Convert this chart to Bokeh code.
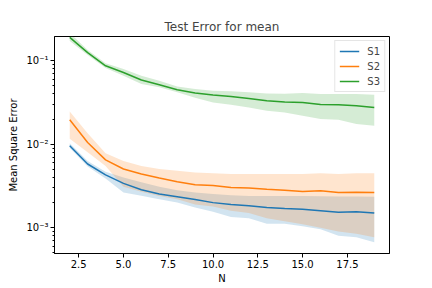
from bokeh.plotting import figure
from bokeh.models import (Range1d, FixedTicker, CustomJSTickFormatter, Legend,
                          LegendItem, ColumnDataSource)
from bokeh.embed import file_html
from bokeh.resources import INLINE

# ---------------- data ----------------
N = [2, 3, 4, 5, 6, 7, 8, 9, 10, 11, 12, 13, 14, 15, 16, 17, 18, 19]

s1_mean = [0.0096, 0.0058, 0.0043, 0.0034, 0.00285, 0.00253, 0.00235, 0.00218, 0.0020,
           0.0019, 0.00183, 0.00175, 0.0017, 0.00167, 0.0016, 0.00153, 0.00156, 0.0015]
s1_lo = [0.0090, 0.0054, 0.0039, 0.00265, 0.00242, 0.0022, 0.00201, 0.00175, 0.00155,
         0.00135, 0.0013, 0.00112, 0.00112, 0.00104, 0.00096, 0.0008, 0.00077, 0.00067]
s1_hi = [0.0103, 0.0063, 0.0047, 0.0040, 0.0035, 0.0031, 0.00282, 0.00265, 0.00253,
         0.00245, 0.0024, 0.0024, 0.0024, 0.0024, 0.00238, 0.00236, 0.00236, 0.00235]

s2_mean = [0.0196, 0.0105, 0.0065, 0.00505, 0.0044, 0.00394, 0.00356, 0.00327, 0.00321,
           0.00304, 0.00299, 0.0029, 0.00282, 0.00272, 0.00277, 0.00265, 0.00267, 0.00265]
s2_lo = [0.0116, 0.0080, 0.0055, 0.0031, 0.0027, 0.0024, 0.0022, 0.0019, 0.0018,
         0.0016, 0.0015, 0.0013, 0.0012, 0.0011, 0.0010, 0.0009, 0.00085, 0.00077]
s2_hi = [0.0247, 0.0135, 0.0078, 0.0063, 0.0055, 0.00505, 0.0048, 0.0046, 0.00448,
         0.0044, 0.0044, 0.0044, 0.0044, 0.0044, 0.0045, 0.0044, 0.0045, 0.0045]

s3_mean = [0.19, 0.125, 0.087, 0.0724, 0.0588, 0.0516, 0.045, 0.041, 0.0388,
           0.0374, 0.0354, 0.0332, 0.032, 0.0317, 0.030, 0.0297, 0.0289, 0.0276]
s3_lo = [0.172, 0.117, 0.082, 0.066, 0.0526, 0.048, 0.042, 0.036, 0.0317,
         0.0297, 0.0276, 0.0252, 0.024, 0.0219, 0.020, 0.0196, 0.0175, 0.0167]
s3_hi = [0.215, 0.134, 0.093, 0.0795, 0.0662, 0.0576, 0.0493, 0.0458, 0.0437,
         0.043, 0.0418, 0.0405, 0.0402, 0.041, 0.040, 0.040, 0.040, 0.0392]

series_names = ["S1", "S2", "S3"]
series_colors = ["#1f77b4", "#ff7f0e", "#2ca02c"]

x_tick_vals = [2.5, 5.0, 7.5, 10.0, 12.5, 15.0, 17.5]
x_tick_labels = ["2.5", "5.0", "7.5", "10.0", "12.5", "15.0", "17.5"]
y_tick_vals = [0.001, 0.01, 0.1]
y_tick_labels = ["10\u207b\u00b3", "10\u207b\u00b2", "10\u207b\u00b9"]

FONT = "DejaVu Sans"

# ---------------- figure ----------------
p = figure(width=432, height=288, x_range=Range1d(1.15, 19.85),
           y_range=Range1d(4.92e-4, 0.195), y_axis_type="log",
           output_backend="svg", toolbar_location=None,
           min_border_left=54, min_border_right=43, min_border_top=36,
           min_border_bottom=35, title="Test Error for mean")

p.title.align = "center"
p.title.text_font = FONT
p.title.text_font_size = "12px"
p.title.text_font_style = "normal"
p.title.standoff = 5
p.title.offset = 0

p.background_fill_color = "white"
p.border_fill_color = "white"
p.outline_line_color = "black"
p.outline_line_width = 1
p.outline_line_alpha = 1
p.xgrid.visible = False
p.ygrid.visible = False

data = [(s1_mean, s1_lo, s1_hi), (s2_mean, s2_lo, s2_hi), (s3_mean, s3_lo, s3_hi)]
renderers = []
for (m, lo, hi), col in zip(data, series_colors):
    src = ColumnDataSource(dict(x=N, m=m, lo=lo, hi=hi))
    p.varea(x="x", y1="lo", y2="hi", source=src, fill_color=col, fill_alpha=0.2)
for (m, lo, hi), col in zip(data, series_colors):
    src = ColumnDataSource(dict(x=N, m=m))
    r = p.line(x="x", y="m", source=src, line_color=col, line_width=1.5)
    renderers.append(r)

legend = Legend(items=[LegendItem(label=n, renderers=[r]) for n, r in zip(series_names, renderers)],
                location="top_right")
legend.margin = 4
legend.padding = 4
legend.spacing = 3
legend.label_height = 12
legend.label_width = 12
legend.glyph_height = 12
legend.glyph_width = 20
legend.label_standoff = 8
legend.label_text_font = FONT
legend.label_text_font_size = "10px"
legend.border_line_color = "#cccccc"
legend.border_line_width = 1
legend.background_fill_alpha = 0.8
p.add_layout(legend)

# ---------------- axes ----------------
p.xaxis.ticker = FixedTicker(ticks=x_tick_vals, minor_ticks=[])
p.xaxis.formatter = CustomJSTickFormatter(args=dict(vals=x_tick_vals, labs=x_tick_labels), code="""
    for (let i = 0; i < vals.length; i++) { if (Math.abs(vals[i] - tick) < 1e-9) return labs[i]; }
    return '';
""")
minor = []
for d in [1e-4, 1e-3, 1e-2, 1e-1]:
    for k in range(2, 10):
        minor.append(k * d)
p.yaxis.ticker = FixedTicker(ticks=y_tick_vals, minor_ticks=minor)
p.yaxis.formatter = CustomJSTickFormatter(args=dict(vals=y_tick_vals, labs=y_tick_labels), code="""
    for (let i = 0; i < vals.length; i++) { if (Math.abs(Math.log10(vals[i]) - Math.log10(tick)) < 1e-6) return labs[i]; }
    return '';
""")

p.xaxis.axis_label = "N"
p.yaxis.axis_label = "Mean Square Error"

for ax in [p.xaxis[0], p.yaxis[0]]:
    ax.axis_line_color = "black"
    ax.axis_line_width = 1
    ax.major_tick_line_color = "black"
    ax.minor_tick_line_color = "black"
    ax.major_tick_out = 4
    ax.major_tick_in = 0
    ax.minor_tick_out = 2
    ax.minor_tick_in = 0
    ax.major_label_text_font = FONT
    ax.major_label_text_font_size = "10px"
    ax.major_label_text_color = "black"
    ax.major_label_standoff = 2
    ax.axis_label_text_font = FONT
    ax.axis_label_text_font_size = "10px"
    ax.axis_label_text_font_style = "normal"
    ax.axis_label_text_color = "black"
    ax.axis_label_standoff = 2
p.yaxis[0].axis_label_standoff = 4

open("out.html", "w").write(file_html(p, INLINE))
